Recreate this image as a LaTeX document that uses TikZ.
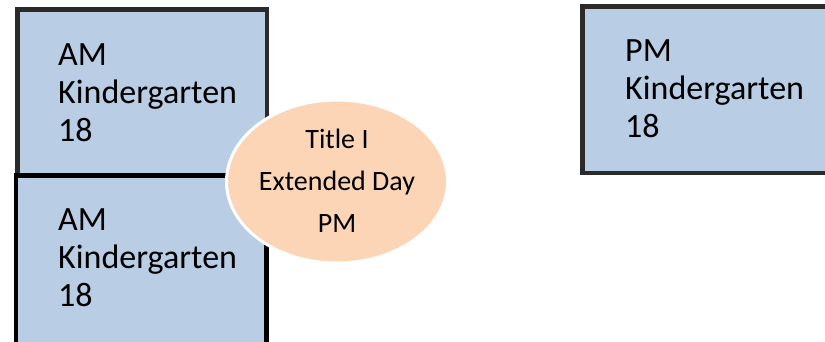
\documentclass[tikz,border=0pt]{standalone}
\usepackage{fontspec}
\setmainfont{Carlito}
\usetikzlibrary{shapes.geometric}
\definecolor{boxfill}{HTML}{B9CDE5}
\definecolor{ellfill}{HTML}{FBD5B5}
\definecolor{patborder}{HTML}{2A2A2A}
\tikzset{
  kbox/.style={rectangle, fill=boxfill, line width=4.5pt, inner sep=0pt, outer sep=0pt, anchor=north west},
  kboxpat/.style={kbox, draw=patborder},
  kboxsolid/.style={kbox, draw=black},
  ktext/.style={anchor=west, align=left, inner sep=0pt, font=\fontsize{34}{38}\selectfont},
  ell/.style={ellipse, fill=ellfill, draw=white, line width=3pt, inner sep=0pt, outer sep=0pt, minimum width=221pt, minimum height=163pt},
  elltext/.style={align=center, inner sep=0pt, font=\fontsize{28}{42}\selectfont}
}
\begin{document}
\begin{tikzpicture}[x=1pt,y=-1pt]
\useasboundingbox (0,0) rectangle (825,341);
\clip (0,0) rectangle (825,341);
\fill[white] (0,0) rectangle (825,341);
% box 1
\node[kboxpat, minimum width=249.5pt, minimum height=168pt] (b1) at (17.25,9.25) {};
\node[ktext] (t1) at (58,93) {AM\\Kindergarten\\18};
% box 2
\node[kboxsolid, minimum width=250.5pt, minimum height=175pt] (b2) at (15.75,175.5) {};
\node[ktext] (t2) at (58,258) {AM\\Kindergarten\\18};
% box 3
\node[kboxpat, minimum width=260pt, minimum height=166.5pt] (b3) at (582.25,6.25) {};
\node[ktext] (t3) at (625,89) {PM\\Kindergarten\\18};
% ellipse
\node[ell] (e) at (337,181.5) {};
\node[elltext] (et) at (337,181) {Title I\\Extended Day\\PM};
\end{tikzpicture}
\end{document}
